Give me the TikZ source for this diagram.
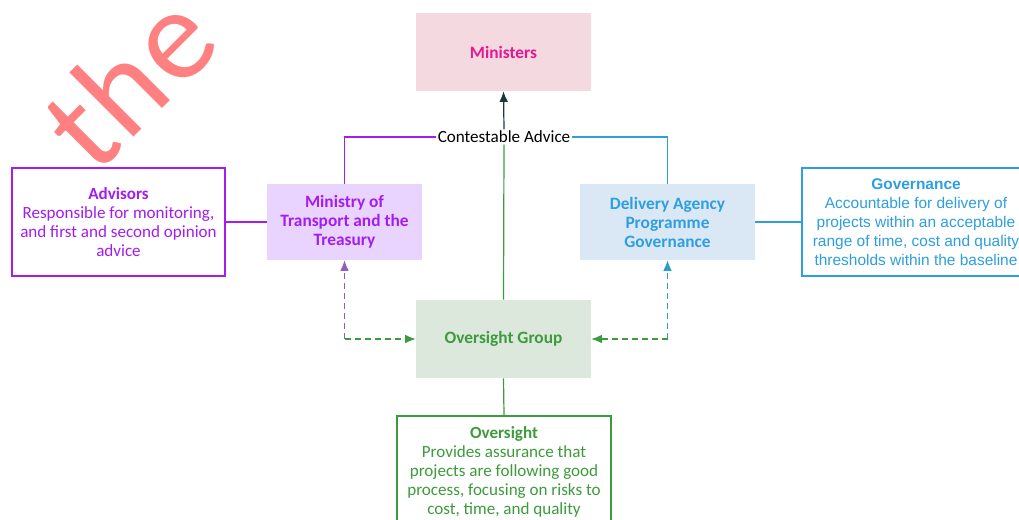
\documentclass[tikz,border=0pt]{standalone}
\usepackage{fontspec}
\setmainfont{Carlito}
\newfontfamily\arialf{Liberation Sans}
\usetikzlibrary{arrows.meta}
\definecolor{pinkfill}{HTML}{F4D9E1}
\definecolor{magtext}{HTML}{E3198F}
\definecolor{lavfill}{HTML}{E8D4FE}
\definecolor{purtext}{HTML}{A41CF0}
\definecolor{bluefill}{HTML}{DAE8F6}
\definecolor{bluetext}{HTML}{2E9FDE}
\definecolor{greenfill}{HTML}{DCE8DC}
\definecolor{greentext}{HTML}{3D9B3D}
\definecolor{dashpur}{HTML}{8E5EC0}
\definecolor{dashblue}{HTML}{2A9CC8}
\definecolor{darkarrow}{HTML}{1A3A3A}
\definecolor{wmred}{HTML}{FF8080}
\tikzset{
  filledbox/.style={draw=none, align=center, font=\bfseries\fontsize{13}{14.25}\selectfont, inner sep=0pt},
  descbox/.style={draw, line width=1pt, fill=white, align=center, font=\fontsize{12.8}{14.25}\selectfont, inner sep=0pt},
  conn/.style={line width=0.9pt},
  dashedconn/.style={line width=0.9pt, dash pattern=on 4.5pt off 3pt},
  tip/.style={-{Latex[length=8pt,width=6.5pt]}},
  wmletter/.style={text=wmred, rotate=45, anchor=base west, inner sep=0pt, outer sep=0pt, font=\fontsize{98}{98}\selectfont},
}
\begin{document}
\begin{tikzpicture}[x=0.75pt,y=-0.75pt]
\useasboundingbox (0,0) rectangle (1019,519);
% watermark
\node[wmletter] (wt) at (95,176) {t};
\node[wmletter] (wh) at ([shift={(2,-2)}]wt.base east) {h};
\node[wmletter] (we) at ([shift={(2,-2)}]wh.base east) {e};
% boxes
\node[filledbox, fill=pinkfill, text=magtext, minimum width=131.25pt, minimum height=58.5pt] (ministers) at (503.5,52) {Ministers};
\node[filledbox, fill=lavfill, text=purtext, minimum width=116.25pt, minimum height=57pt] (ministry) at (344.5,222) {Ministry of\\Transport and the\\Treasury};
\node[filledbox, fill=bluefill, text=bluetext, minimum width=131.25pt, minimum height=57pt] (delivery) at (667.5,222) {Delivery Agency\\Programme\\Governance};
\node[filledbox, fill=greenfill, text=greentext, minimum width=131.25pt, minimum height=58.5pt] (og) at (503.5,339) {Oversight Group};
\node[descbox, draw=purtext, text=purtext, minimum width=159.75pt, minimum height=81pt] (advisors) at (118.5,222) {\textbf{Advisors}\\Responsible for monitoring,\\and first and second opinion\\advice};
\node[descbox, draw=bluetext, text=bluetext, font=\arialf\fontsize{11.6}{14.25}\selectfont, minimum width=171pt, minimum height=81pt] (governance) at (916,222) {\textbf{Governance}\\Accountable for delivery of\\projects within an acceptable\\range of time, cost and quality\\thresholds within the baseline};
\node[descbox, draw=greentext, text=greentext, minimum width=160.5pt, minimum height=84pt] (oversight) at (504,472) {\textbf{Oversight}\\Provides assurance that\\projects are following good\\process, focusing on risks to\\cost, time, and quality};
% label
\node[fill=white, inner xsep=1pt, inner ysep=1pt, font=\fontsize{12.8}{14}\selectfont] (ca) at (504,137) {Contestable Advice};
% connectors
\draw[conn, purtext] (ministry.north) |- (ca.west);
\draw[conn, bluetext] (delivery.north) |- (ca.east);
\draw[conn, greentext] (og.north) -- (ca.south);
\draw[conn, darkarrow, tip] (ca.north) -- (ministers.south);
\draw[conn, purtext] (advisors.east) -- (ministry.west);
\draw[conn, bluetext] (delivery.east) -- (governance.west);
\draw[conn, greentext] (og.south) -- (oversight.north);
\coordinate (dl) at (344.5,339);
\coordinate (dr) at (667.5,339);
\draw[dashedconn, dashpur, tip] (dl) -- (ministry.south);
\draw[dashedconn, greentext, tip] (dl) -- (og.west);
\draw[dashedconn, dashblue, tip] (dr) -- (delivery.south);
\draw[dashedconn, greentext, tip] (dr) -- (og.east);
\end{tikzpicture}
\end{document}
